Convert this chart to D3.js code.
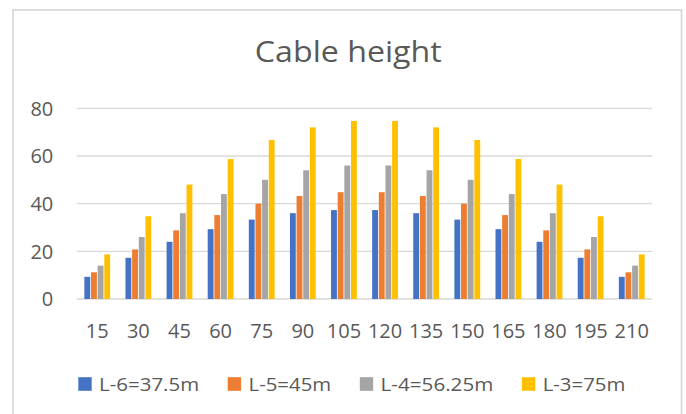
<!DOCTYPE html>
<html>
<head>
<meta charset="utf-8">
<script src="https://cdn.jsdelivr.net/npm/d3@7"></script>
<style>
  html, body { margin: 0; padding: 0; background: #fff; }
  svg { display: block; }
  text { font-family: "Open Sans", "Noto Sans", sans-serif; fill: #595959; }
</style>
</head>
<body>
<svg id="chart" width="686" height="414"></svg>
<script>
// ---- data ----
const categories = ["15","30","45","60","75","90","105","120","135","150","165","180","195","210"];
const seriesNames = ["L-6=37.5m", "L-5=45m", "L-4=56.25m", "L-3=75m"];
const seriesL6 = [9.3, 17.3, 24.0, 29.3, 33.3, 36.0, 37.3, 37.3, 36.0, 33.3, 29.3, 24.0, 17.3, 9.3];
const seriesL5 = [11.2, 20.8, 28.8, 35.2, 40.0, 43.2, 44.8, 44.8, 43.2, 40.0, 35.2, 28.8, 20.8, 11.2];
const seriesL4 = [14.0, 26.0, 36.0, 44.0, 50.0, 54.0, 56.0, 56.0, 54.0, 50.0, 44.0, 36.0, 26.0, 14.0];
const seriesL3 = [18.7, 34.7, 48.0, 58.7, 66.7, 72.0, 74.7, 74.7, 72.0, 66.7, 58.7, 48.0, 34.7, 18.7];
const yTicks = [0, 20, 40, 60, 80];
const titleText = "Cable height";

const seriesValues = [seriesL6, seriesL5, seriesL4, seriesL3];
const colors = ["#4472C4", "#ED7D31", "#A5A5A5", "#FFC000"];

const svg = d3.select("#chart");

// outer chart border
svg.append("rect")
  .attr("x", 13).attr("y", 10)
  .attr("width", 668.5).attr("height", 420)
  .attr("fill", "#fff")
  .attr("stroke", "#D9D9D9").attr("stroke-width", 1.75);

// title
svg.append("text")
  .attr("x", 348.3).attr("y", 62.3)
  .attr("text-anchor", "middle")
  .attr("font-size", 29)
  .attr("textLength", 187).attr("lengthAdjust", "spacingAndGlyphs")
  .text(titleText);

// scales
const plot = { left: 76.7, right: 652.3, top: 108.3, bottom: 299 };
const x0 = d3.scaleBand().domain(categories)
  .range([plot.left, plot.right])
  .paddingInner(0.353).paddingOuter(0.1765);
const x1 = d3.scaleBand().domain(d3.range(seriesNames.length))
  .range([0, x0.bandwidth()]).padding(0);
const y = d3.scaleLinear().domain([0, 80]).range([plot.bottom, plot.top]);

// gridlines
svg.append("g").selectAll("line").data(yTicks).join("line")
  .attr("x1", plot.left).attr("x2", plot.right)
  .attr("y1", d => y(d)).attr("y2", d => y(d))
  .attr("stroke", "#D9D9D9").attr("stroke-width", 1.3);

// y labels
svg.append("g").selectAll("text").data(yTicks).join("text")
  .attr("x", 53.3).attr("y", d => y(d) + 7.2)
  .attr("text-anchor", "end")
  .attr("font-size", 20)
  .text(d => d);

// bars
const rows = categories.map((c, i) => ({ c, vals: seriesValues.map(s => s[i]) }));
const groups = svg.append("g").selectAll("g").data(rows).join("g")
  .attr("transform", d => `translate(${x0(d.c)},0)`);
groups.selectAll("rect").data(d => d.vals.map((v, k) => ({ v, k }))).join("rect")
  .attr("x", d => x1(d.k) + 0.4)
  .attr("width", x1.bandwidth() - 0.8)
  .attr("y", d => y(d.v))
  .attr("height", d => y(0) - y(d.v))
  .attr("fill", d => colors[d.k]);

// x labels
svg.append("g").selectAll("text").data(categories).join("text")
  .attr("x", d => x0(d) + x0.bandwidth() / 2)
  .attr("y", 337.5)
  .attr("text-anchor", "middle")
  .attr("font-size", 20)
  .text(d => d);

// legend
const legendWidths = [100, 82.7, 112.7, 82.6];
let lx = 78.3;
const legend = svg.append("g");
seriesNames.forEach((name, k) => {
  legend.append("rect")
    .attr("x", lx).attr("y", 377.2)
    .attr("width", 13.4).attr("height", 13.6)
    .attr("fill", colors[k]);
  legend.append("text")
    .attr("x", lx + 20.8).attr("y", 391)
    .attr("font-size", 18.8)
    .attr("textLength", legendWidths[k]).attr("lengthAdjust", "spacingAndGlyphs")
    .text(name);
  lx += 20.8 + legendWidths[k] + 28.6;
});
</script>
</body>
</html>
